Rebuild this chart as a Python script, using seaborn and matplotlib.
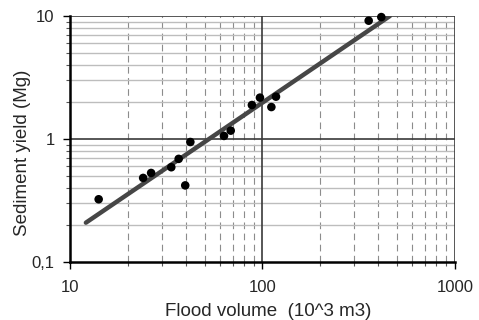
import seaborn as sns
import matplotlib
matplotlib.use("Agg")
import matplotlib.pyplot as plt
from matplotlib.ticker import FixedLocator, NullFormatter

# flood volume (10^3 m3) vs sediment yield (Mg)
flood_volume = [14.1, 24.0, 26.4, 33.6, 36.7, 39.7, 42.2, 63.1, 68.4, 88.1, 97.0, 111.2, 117.5, 356, 414]
sediment_yield = [0.324, 0.483, 0.53, 0.59, 0.69, 0.42, 0.946, 1.06, 1.17, 1.89, 2.17, 1.82, 2.21, 9.16, 9.8]
# power-law trend line end points
trend_x = [12.1, 459]
trend_y = [0.209, 10.0]

x_ticks = [10, 100, 1000]
x_labels = ["10", "100", "1000"]
y_ticks = [0.1, 1, 10]
y_labels = ["0,1", "1", "10"]

sns.set_style("white")
plt.rcParams["font.family"] = ["Liberation Sans", "DejaVu Sans"]

fig = plt.figure(figsize=(4.79, 3.2), dpi=100)
ax = fig.add_axes([0.146, 0.181, 0.804, 0.769])

minor_x = [m * d for d in (10, 100) for m in range(2, 10)]
minor_y = [m * d for d in (0.1, 1) for m in range(2, 10)]

ax.set_xscale("log")
ax.set_yscale("log")
ax.set_xlim(10, 1000)
ax.set_ylim(0.1, 10)

# grid
for v in minor_x:
    ax.axvline(v, color="#8c8c8c", lw=0.8, ls=(0, (6, 4)), zorder=0)
for v in minor_y:
    ax.axhline(v, color="#bdbdbd", lw=1.0, zorder=0)
ax.axvline(100, color="#3a3a3a", lw=1.2, zorder=0.5)
ax.axvline(1000, color="#3a3a3a", lw=1.2, zorder=0.5)
ax.axhline(1, color="#3a3a3a", lw=1.2, zorder=0.5)
ax.axhline(10, color="#3a3a3a", lw=1.2, zorder=0.5)

sns.lineplot(x=trend_x, y=trend_y, ax=ax, color="#464646", lw=3.2, zorder=2)
sns.scatterplot(x=flood_volume, y=sediment_yield, ax=ax, color="black", s=38,
                edgecolor="none", zorder=3, clip_on=False)

ax.xaxis.set_major_locator(FixedLocator(x_ticks))
ax.xaxis.set_minor_locator(FixedLocator(minor_x))
ax.yaxis.set_major_locator(FixedLocator(y_ticks))
ax.yaxis.set_minor_locator(FixedLocator(minor_y))
ax.set_xticklabels(x_labels)
ax.set_yticklabels(y_labels)
ax.xaxis.set_minor_formatter(NullFormatter())
ax.yaxis.set_minor_formatter(NullFormatter())

ax.tick_params(axis="both", which="major", direction="out", length=5, width=1,
               labelsize=12, color="black", bottom=True, left=True)
ax.tick_params(axis="both", which="minor", direction="out", length=3, width=0.8,
               color="#555555", bottom=True, left=True)
ax.tick_params(axis="x", which="major", pad=8)
ax.tick_params(axis="y", which="major", pad=6)

for s in ["top", "right"]:
    ax.spines[s].set_visible(False)
for s in ["left", "bottom"]:
    ax.spines[s].set_color("black")
    ax.spines[s].set_linewidth(1.8)

fig.text(268 / 479, 3.5 / 320, "Flood volume  (10^3 m3)", fontsize=13.5,
         ha="center", va="baseline")
fig.text(23 / 479, 1 - 153 / 320, "Sediment yield (Mg)", fontsize=13.5,
         rotation=90, ha="center", va="center")

fig.savefig("out.png", dpi=100)
